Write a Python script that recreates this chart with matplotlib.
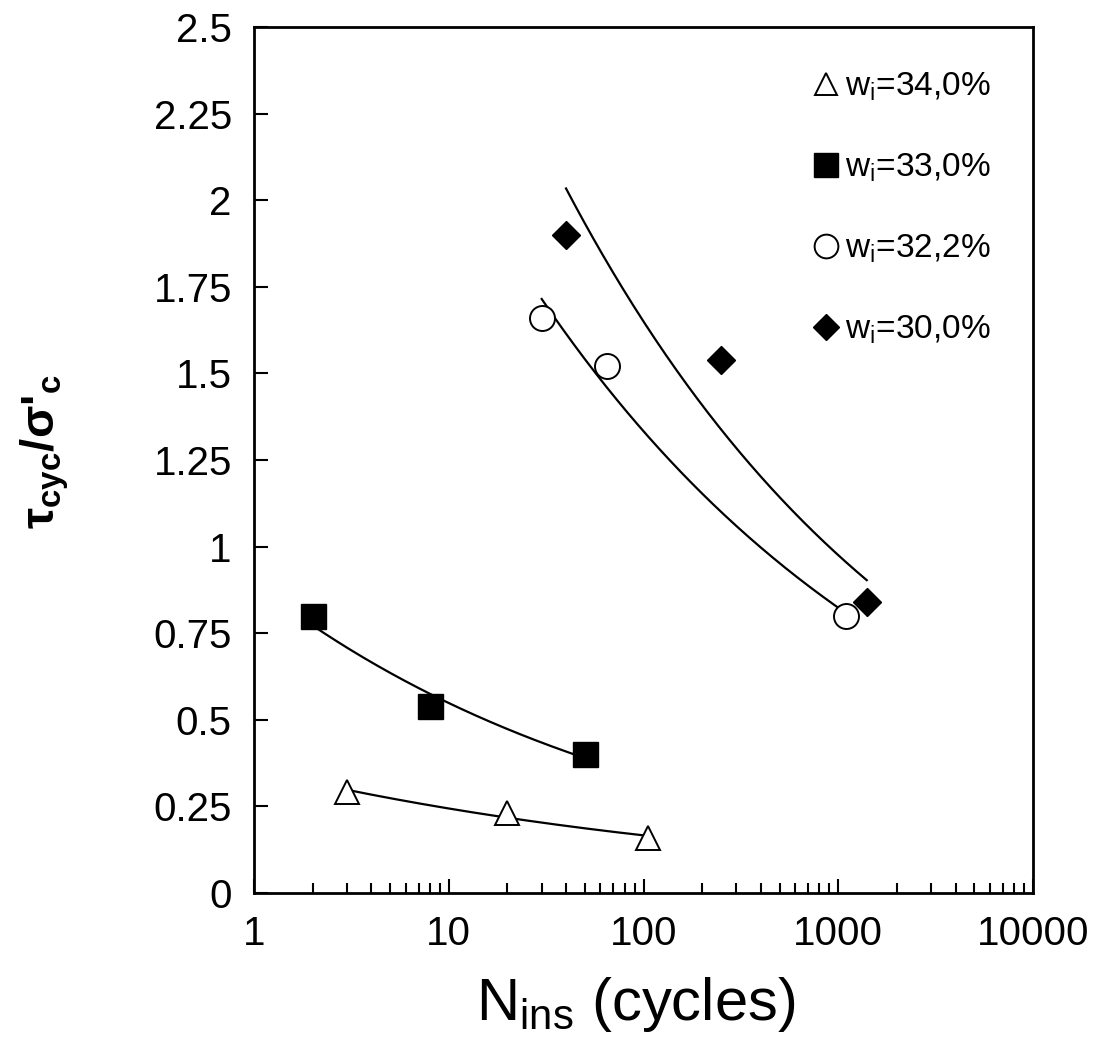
"""cyclic stress ratio vs number of cycles to instability"""
import numpy as np
import matplotlib
matplotlib.use("Agg")
import matplotlib.pyplot as plt

plt.rcParams['font.family'] = ['Liberation Sans', 'DejaVu Sans']
plt.rcParams['mathtext.default'] = 'regular'

# w_i = 34.0 %
N_34 = [3, 20, 105]
R_34 = [0.29, 0.23, 0.16]
# w_i = 33.0 %
N_33 = [2, 8, 50]
R_33 = [0.80, 0.54, 0.40]
# w_i = 32.2 %
N_322 = [30, 65, 1100]
R_322 = [1.66, 1.52, 0.80]
# w_i = 30.0 %
N_30 = [40, 250, 1400]
R_30 = [1.90, 1.54, 0.84]

LABELS = ["w$_i$=34,0%", "w$_i$=33,0%", "w$_i$=32,2%", "w$_i$=30,0%"]
Y_TICKS = [0, 0.25, 0.5, 0.75, 1, 1.25, 1.5, 1.75, 2, 2.25, 2.5]
Y_TICK_LABELS = ["0", "0.25", "0.5", "0.75", "1", "1.25", "1.5", "1.75",
                 "2", "2.25", "2.5"]
X_TICKS = [1, 10, 100, 1000, 10000]
X_TICK_LABELS = ["1", "10", "100", "1000", "10000"]


def power_fit(ax, n, r):
    """power-law trendline like excel"""
    b, a = np.polyfit(np.log10(n), np.log10(r), 1)
    xs = np.logspace(np.log10(min(n)), np.log10(max(n)), 200)
    ax.plot(xs, 10 ** a * xs ** b, color='black', lw=1.6, zorder=2)


def plot():
    """ploting the graph"""
    fig = plt.figure(figsize=(11.06, 10.58), dpi=100)
    ax = fig.add_axes([0.2297, 0.156, 0.7043, 0.8185])

    series = [
        (N_34, R_34, dict(marker='^', ms=17, mfc='white', mec='black', mew=1.4)),
        (N_33, R_33, dict(marker='s', ms=18, mfc='black', mec='black', mew=1)),
        (N_322, R_322, dict(marker='o', ms=18, mfc='white', mec='black', mew=1.4)),
        (N_30, R_30, dict(marker='D', ms=14, mfc='black', mec='black', mew=1)),
    ]
    handles = []
    for (n, r, style), label in zip(series, LABELS):
        power_fit(ax, n, r)
        h, = ax.plot(n, r, ls='none', label=label, zorder=3, **style)
        handles.append(h)

    ax.set_xscale('log')
    ax.set_xlim(1, 10000)
    ax.set_ylim(0, 2.5)
    ax.set_xticks(X_TICKS)
    ax.set_xticklabels(X_TICK_LABELS)
    ax.set_yticks(Y_TICKS)
    ax.set_yticklabels(Y_TICK_LABELS)
    ax.tick_params(axis='both', which='major', direction='in', length=10,
                   width=1.5, labelsize=29, pad=16)
    ax.tick_params(axis='x', which='minor', direction='in', length=7,
                   width=1.5)
    for spine in ax.spines.values():
        spine.set_linewidth(2)

    ax.set_xlabel("N$_{ins}$ (cycles)", fontsize=43)
    ax.xaxis.set_label_coords(0.49, -0.095)
    ax.set_ylabel("τ$_{cyc}$/σ'$_c$", fontsize=34, fontweight='bold')
    ax.yaxis.set_label_coords(-0.235, 0.51)

    ax.legend(handles=handles, loc='upper right', frameon=False,
              fontsize=24, markerscale=0.95, handlelength=0.8,
              handletextpad=0.15, labelspacing=1.45,
              bbox_to_anchor=(0.975, 0.976), borderaxespad=0.3)

    fig.savefig('out.png', dpi=100)


plot()
